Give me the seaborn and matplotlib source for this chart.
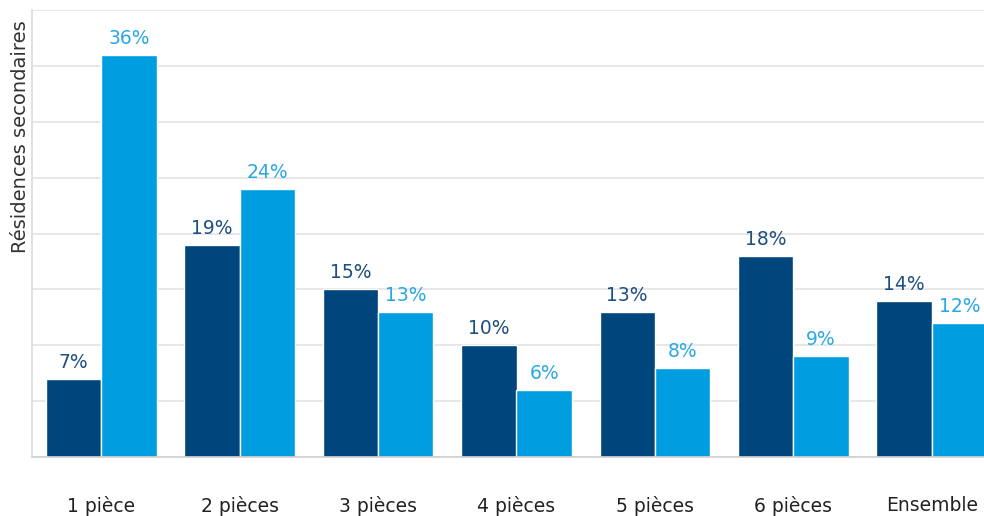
import pandas as pd
import seaborn as sns
import matplotlib.pyplot as plt

categories = ["1 pièce", "2 pièces", "3 pièces", "4 pièces", "5 pièces", "6 pièces", "Ensemble"]
serie_fonce = [7, 19, 15, 10, 13, 18, 14]
serie_clair = [36, 24, 13, 6, 8, 9, 12]
series = ["A", "B"]
colors = ["#00457c", "#009ee0"]
label_colors = ["#1d4f80", "#2aa8e2"]

df = pd.DataFrame({
    "categorie": categories * 2,
    "serie": [series[0]] * len(categories) + [series[1]] * len(categories),
    "valeur": serie_fonce + serie_clair,
})

sns.set_style("white")
plt.rcParams['font.family'] = ['DejaVu Sans']

fig = plt.figure(figsize=(9.84, 5.16), dpi=100)
ax = fig.add_axes([32 / 984, 1 - 457 / 516, 969 / 984, 447 / 516])

sns.barplot(data=df, x="categorie", y="valeur", hue="serie", palette=colors,
            saturation=1, width=0.8, edgecolor="white", linewidth=1,
            legend=False, ax=ax)

for cont, col in zip(ax.containers, label_colors):
    ax.bar_label(cont, labels=[f"{v:.0f}%" for v in cont.datavalues],
                 padding=5, color=col, fontsize=13.5)

ax.set_xlim(-0.5, 6.5)
ax.set_ylim(0, 40)
ax.set_yticks(range(0, 41, 5))
ax.set_yticklabels([])
ax.yaxis.grid(True, color="#e3e3e3", linewidth=1.2)
ax.set_axisbelow(True)
ax.tick_params(axis="both", length=0)
ax.tick_params(axis="x", pad=28, labelsize=13.5, labelcolor="#222222")
ax.set_xlabel("")
ax.set_ylabel("Résidences secondaires", fontsize=14, color="#333333")
ax.yaxis.set_label_coords(-0.002, 0.978)
ax.yaxis.label.set_horizontalalignment("right")

for side in ["top", "right"]:
    ax.spines[side].set_visible(False)
ax.spines["left"].set_color("#dcdcdc")
ax.spines["bottom"].set_color("#d0d0d0")
ax.spines["left"].set_linewidth(1.2)
ax.spines["bottom"].set_linewidth(1.2)

fig.savefig("out.png", dpi=100)
